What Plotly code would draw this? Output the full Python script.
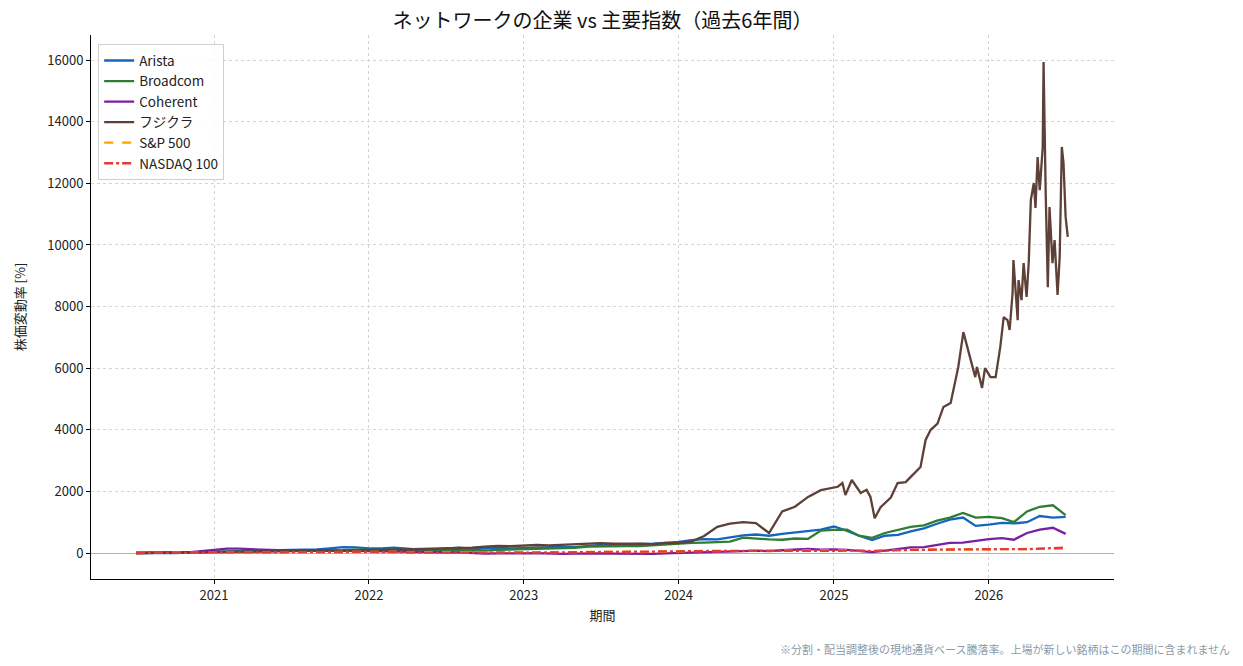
import plotly.graph_objects as go
import pandas as pd

FONT = "Noto Sans CJK JP"

# ---- Data (monthly, Jul 2020 .. Jul 2026), percent change ----
months = pd.date_range("2020-07-01", "2026-07-01", freq="MS").strftime("%Y-%m-%d").tolist()

arista = [0, 10, 0, -5, 20, 40,
          45, 55, 60, 75, 70, 75, 90, 110, 115, 150, 190, 180,
          150, 150, 170, 140, 110, 120, 150, 170, 130, 140, 170, 150,
          160, 170, 200, 200, 190, 230, 260, 270, 280, 270, 300, 330,
          360, 420, 450, 440, 510, 570, 600, 560, 620, 660, 700, 760,
          860, 720, 560, 420, 560, 590, 700, 800, 950, 1080, 1150, 880,
          920, 980, 960, 1000, 1200, 1150, 1170]

broadcom = [0, 5, 10, 15, 20, 30,
            35, 40, 45, 45, 50, 55, 60, 65, 60, 70, 90, 110,
            100, 95, 100, 90, 95, 85, 90, 90, 70, 75, 100, 110,
            120, 130, 140, 140, 170, 210, 220, 230, 220, 220, 250, 290,
            310, 330, 340, 350, 370, 500, 460, 440, 430, 470, 460, 730,
            750, 760, 560, 490, 650, 760, 850, 900, 1050, 1150, 1300, 1150,
            1170, 1130, 1000, 1350, 1500, 1550, 1230]

coherent = [0, 5, -5, 0, 20, 60,
            110, 140, 140, 120, 100, 90, 90, 80, 70, 80, 70, 70,
            60, 50, 50, 40, 30, 30, 25, 20, 0, -20, -10, -20,
            -10, -5, -20, -30, -20, -10, -10, -20, -30, -40, -30, -10,
            0, 10, 20, 20, 40, 60, 80, 60, 90, 110, 130, 110,
            120, 100, 60, 30, 80, 120, 180, 190, 260, 330, 340, 400,
            450, 480, 430, 650, 760, 820, 620]

sp500 = [0, 7, 3, 0, 11, 15,
         14, 17, 22, 28, 29, 31, 34, 38, 32, 42, 41, 47,
         39, 35, 40, 27, 27, 17, 27, 22, 11, 20, 26, 19,
         26, 22, 26, 28, 29, 38, 43, 40, 33, 30, 42, 49,
         52, 61, 66, 59, 67, 73, 75, 77, 81, 80, 91, 87,
         93, 88, 78, 66, 88, 98, 102, 106, 112, 115, 115, 117,
         120, 118, 110, 122, 130, 135, 140]

nasdaq100 = [0, 11, 5, 2, 13, 18,
             18, 18, 20, 27, 25, 33, 36, 41, 33, 45, 48, 49,
             36, 29, 35, 16, 14, 3, 17, 10, -3, 2, 8, -2,
             8, 8, 18, 19, 28, 37, 42, 40, 33, 31, 44, 52,
             54, 63, 65, 58, 68, 79, 76, 77, 80, 79, 86, 88,
             90, 86, 75, 62, 82, 94, 101, 104, 113, 120, 118, 120,
             122, 118, 108, 125, 140, 160, 175]

# Fujikura: monthly until end of 2024, then denser readings
fujikura_dates = months[:54] + [
    "2025-01-10", "2025-01-21", "2025-01-28", "2025-02-12", "2025-03-05", "2025-03-19",
    "2025-03-28", "2025-04-07", "2025-04-21", "2025-05-15", "2025-05-31", "2025-06-19",
    "2025-07-01", "2025-07-24", "2025-08-05", "2025-08-17", "2025-09-02", "2025-09-16",
    "2025-10-03", "2025-10-14", "2025-10-21", "2025-11-02", "2025-11-11", "2025-11-18",
    "2025-11-30", "2025-12-04", "2025-12-16", "2025-12-23", "2026-01-05", "2026-01-17",
    "2026-01-21", "2026-01-28", "2026-02-05", "2026-02-14", "2026-02-19", "2026-02-26",
    "2026-02-28", "2026-03-05", "2026-03-10", "2026-03-12", "2026-03-19", "2026-03-24",
    "2026-03-31", "2026-04-05", "2026-04-10", "2026-04-17", "2026-04-21", "2026-04-26",
    "2026-05-01", "2026-05-08", "2026-05-10", "2026-05-15", "2026-05-20", "2026-05-24",
    "2026-05-31", "2026-06-05", "2026-06-12", "2026-06-17", "2026-06-22", "2026-06-26",
    "2026-07-01", "2026-07-06"]
fujikura = [0, 5, 10, 15, 25, 40,
            45, 55, 60, 55, 60, 65, 60, 70, 80, 75, 70, 80,
            90, 100, 110, 100, 110, 120, 130, 150, 170, 210, 230, 220,
            240, 260, 250, 270, 280, 300, 320, 300, 310, 300, 290, 330,
            320, 380, 550, 850, 950, 1000, 970, 650, 1350, 1500, 1820, 2040,
            2150, 2270, 1880, 2370, 1950, 2050,
            1820, 1130, 1490, 1800, 2270, 2300,
            2470, 2790, 3670, 4000, 4200, 4740,
            4870, 5620, 6040, 7170, 6690, 6260,
            5710, 6040, 5360, 6000, 5710, 5710,
            6040, 6690, 7660, 7560, 7240, 8440,
            9510, 8440, 7560, 8860, 8210, 9410,
            8310, 9410, 11460, 12010, 11200, 12850,
            11780, 13180, 15940, 11690, 8630, 11230,
            9410, 10160, 8380, 9610, 13180, 12660,
            10910, 10260]

series = [
    ("Arista", months, arista, "#1565C0", "solid"),
    ("Broadcom", months, broadcom, "#2E7D32", "solid"),
    ("Coherent", months, coherent, "#7B1FA2", "solid"),
    ("フジクラ", fujikura_dates, fujikura, "#5D4037", "solid"),
    ("S&P 500", months, sp500, "#FFA000", "dash"),
    ("NASDAQ 100", months, nasdaq100, "#E53935", "dashdot"),
]

year_ticks = ["2021-01-01", "2022-01-01", "2023-01-01", "2024-01-01", "2025-01-01", "2026-01-01"]
year_labels = ["2021", "2022", "2023", "2024", "2025", "2026"]
y_ticks = [0, 2000, 4000, 6000, 8000, 10000, 12000, 14000, 16000]

fig = go.Figure()
for name, x, y, color, dash in series:
    fig.add_trace(go.Scatter(x=x, y=y, name=name, mode="lines",
                             line=dict(color=color, width=2.3, dash=dash)))

fig.update_layout(
    width=1243, height=666,
    paper_bgcolor="white", plot_bgcolor="white",
    font=dict(family=FONT, size=13, color="#222222"),
    margin=dict(l=91, r=129, t=35, b=87),
    title=dict(text="ネットワークの企業 vs 主要指数（過去6年間）",
               x=(91 + 1114) / 2 / 1243, xanchor="center", y=1 - 21 / 666, yanchor="middle",
               font=dict(family=FONT, size=20, color="#111111")),
    showlegend=True,
    legend=dict(x=0.007, y=0.983, xanchor="left", yanchor="top",
                bgcolor="rgba(255,255,255,0.85)", bordercolor="#d0d0d0", borderwidth=1,
                font=dict(family=FONT, size=13.5, color="#222222"),
                tracegroupgap=0, itemwidth=30),
    xaxis=dict(
        range=["2020-03-17", "2026-10-23"],
        tickmode="array", tickvals=year_ticks, ticktext=year_labels,
        showgrid=True, gridcolor="#d4d4d4", griddash="dot", gridwidth=1,
        showline=True, linecolor="black", linewidth=1, mirror=False,
        ticks="outside", ticklen=4, tickcolor="black",
        zeroline=False,
        title=dict(text="期間", font=dict(family=FONT, size=13), standoff=8),
    ),
    yaxis=dict(
        range=[-844, 16815],
        tickmode="array", tickvals=y_ticks, ticktext=[str(v) for v in y_ticks],
        showgrid=True, gridcolor="#d4d4d4", griddash="dot", gridwidth=1,
        showline=True, linecolor="black", linewidth=1, mirror=False,
        ticks="outside", ticklen=4, tickcolor="black",
        zeroline=True, zerolinecolor="#b0b0b0", zerolinewidth=1,
        title=dict(text="株価変動率 [%]", font=dict(family=FONT, size=13), standoff=18),
    ),
)

fig.add_annotation(
    text="※分割・配当調整後の現地通貨ベース騰落率。上場が新しい銘柄はこの期間に含まれません",
    xref="paper", yref="paper", x=(1232 - 91) / 1023, y=-(649 - 579) / 544,
    xanchor="right", yanchor="middle", showarrow=False,
    font=dict(family=FONT, size=11, color="#8a9aa8"),
)

fig.write_html("out.html")
